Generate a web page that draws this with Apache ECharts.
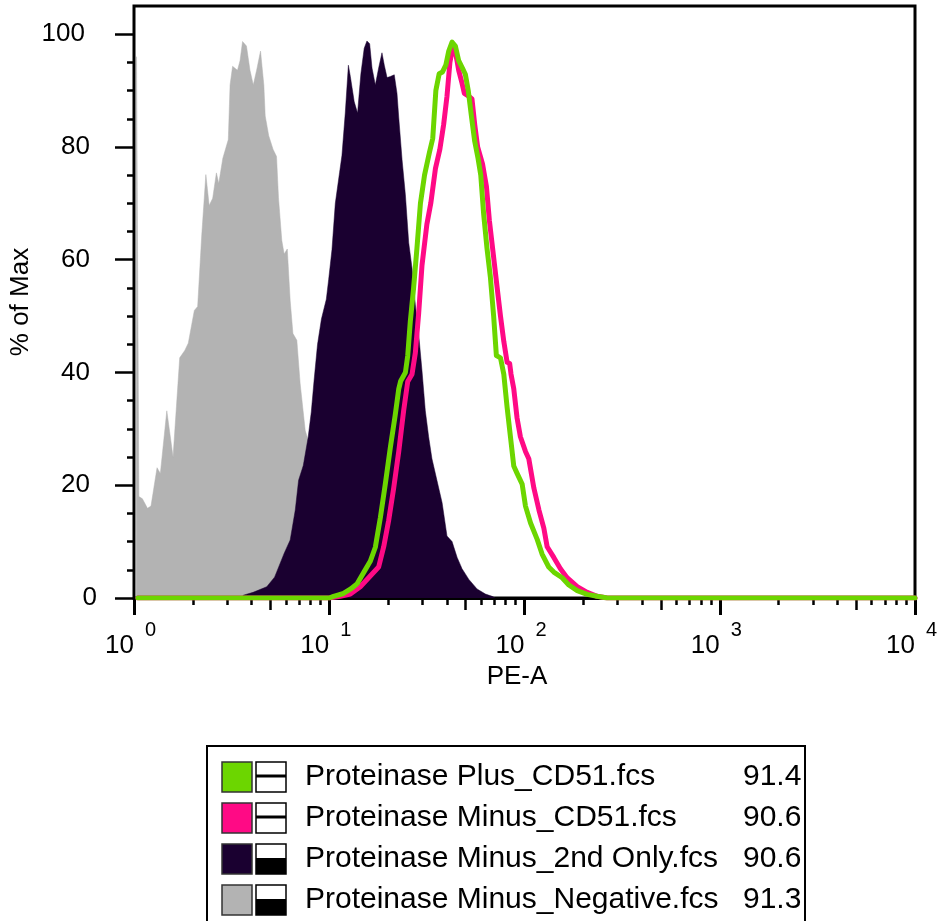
<!DOCTYPE html>
<html>
<head>
<meta charset="utf-8">
<title>PE-A histogram</title>
<script src="https://cdn.jsdelivr.net/npm/echarts@6/dist/echarts.min.js"></script>
<style>
html, body { margin: 0; padding: 0; background: #fff; }
#chart { width: 944px; height: 921px; }
</style>
</head>
<body>
<div id="chart"></div>
<script>
// x = log10(PE-A), y = % of Max
var negativeCurve = [
    [0.011, 0], [0.013, 96], [0.021, 96], [0.025, 18], [0.043, 17.6], [0.069, 15.9], [0.087, 16.3],
    [0.118, 23.1], [0.135, 22.1], [0.168, 33.2], [0.2, 25.0], [0.234, 42.6], [0.26, 43.9],
    [0.278, 45.2], [0.309, 51.0], [0.326, 51.7], [0.347, 64.4], [0.368, 75.1], [0.385, 69.6],
    [0.403, 70.9], [0.422, 75.4], [0.434, 73.5], [0.455, 78.0], [0.483, 81.3], [0.492, 91],
    [0.505, 94.3], [0.53, 93.6], [0.543, 95.3], [0.556, 98.7], [0.576, 97.9], [0.594, 93.6],
    [0.611, 91], [0.628, 93.6], [0.648, 97], [0.665, 91], [0.672, 85.5], [0.69, 82],
    [0.712, 79.6], [0.73, 78.3], [0.74, 71], [0.757, 63.4], [0.769, 61], [0.785, 61.9],
    [0.8, 52.7], [0.814, 46.9], [0.834, 45.7], [0.851, 38], [0.877, 29.7], [0.892, 28],
    [0.93, 20], [0.96, 13], [1.0, 6], [1.05, 2], [1.1, 0]
];
var secondOnlyCurve = [
    [0.55, 0], [0.56, 0.5], [0.61, 1], [0.68, 2], [0.72, 3.7], [0.77, 8], [0.8, 10.3],
    [0.826, 15.6], [0.843, 20.9], [0.867, 23.5], [0.892, 28.5], [0.908, 33], [0.922, 38.5],
    [0.94, 45], [0.96, 49.5], [0.985, 53], [0.997, 56.5], [1.014, 61.8], [1.031, 70],
    [1.053, 75.5], [1.065, 78.5], [1.082, 86], [1.098, 94.5], [1.108, 92.5], [1.128, 88],
    [1.145, 86], [1.162, 93], [1.179, 97.5], [1.193, 98.8], [1.207, 98.3], [1.219, 94],
    [1.236, 91], [1.253, 94], [1.27, 96.7], [1.282, 94.5], [1.296, 92.3], [1.313, 92.5],
    [1.333, 92.8], [1.347, 89.5], [1.356, 85.2], [1.373, 77.7], [1.39, 71.5], [1.407, 63],
    [1.424, 58.5], [1.441, 52], [1.458, 46.8], [1.475, 40.3], [1.492, 33.2], [1.509, 28.6],
    [1.526, 24.7], [1.552, 20.8], [1.578, 16.9], [1.603, 11], [1.629, 10], [1.655, 7.2],
    [1.68, 5.2], [1.715, 3.3], [1.757, 1.6], [1.8, 0.7], [1.834, 0.3], [1.85, 0]
];
var minusCd51Curve = [
    [0.02, 0], [1.0, 0], [1.056, 0.3], [1.108, 0.7], [1.159, 2], [1.21, 3.9], [1.253, 5.5],
    [1.279, 9.1], [1.304, 13.7], [1.33, 19.5], [1.356, 26], [1.381, 33.2], [1.402, 38.4],
    [1.424, 39.7], [1.441, 43.5], [1.458, 50.5], [1.475, 59], [1.5, 66.3], [1.52, 70],
    [1.544, 76.2], [1.566, 79.5], [1.586, 84], [1.603, 89], [1.618, 95], [1.634, 98],
    [1.646, 96.9], [1.663, 93.6], [1.68, 91.3], [1.692, 89.5], [1.714, 89], [1.731, 88.5],
    [1.745, 84], [1.76, 80], [1.785, 77], [1.805, 73], [1.82, 67], [1.84, 61], [1.86, 55],
    [1.877, 50], [1.894, 45.5], [1.911, 41.8], [1.924, 41.6], [1.931, 39.7], [1.945, 37.1],
    [1.962, 31.9], [1.979, 28.6], [2.005, 26], [2.022, 24.7], [2.048, 19.5], [2.074, 15.6],
    [2.099, 12.4], [2.116, 9.1], [2.15, 7.2], [2.184, 5.2], [2.218, 3.6], [2.27, 2],
    [2.321, 1], [2.372, 0.3], [2.424, 0], [4.0, 0]
];
var plusCd51Curve = [
    [0.02, 0], [1.0, 0], [1.022, 0.3], [1.073, 0.8], [1.11, 1.6], [1.142, 2.5], [1.176, 4.5],
    [1.21, 6.5], [1.236, 9], [1.262, 14.3], [1.287, 20.2], [1.313, 26.7], [1.338, 32.5],
    [1.356, 37.1], [1.366, 38.5], [1.39, 40], [1.402, 43], [1.415, 49], [1.432, 55],
    [1.449, 62], [1.467, 70], [1.488, 75], [1.513, 79], [1.53, 81.5], [1.546, 90],
    [1.563, 93], [1.58, 93.3], [1.597, 94.5], [1.612, 97], [1.629, 98.6], [1.646, 97.9],
    [1.663, 95.3], [1.682, 94], [1.697, 92.9], [1.712, 90], [1.728, 85.5], [1.745, 81],
    [1.762, 78], [1.776, 75], [1.791, 68], [1.808, 62], [1.825, 57], [1.842, 50],
    [1.856, 43], [1.877, 42.6], [1.894, 39.7], [1.911, 33.8], [1.928, 28.6], [1.945, 23.4],
    [1.962, 22.1], [1.988, 20.2], [2.005, 16.3], [2.031, 13.3], [2.065, 10.4], [2.09, 7.8],
    [2.124, 5.5], [2.15, 4.6], [2.193, 3.6], [2.227, 2.3], [2.27, 1.3], [2.321, 0.65],
    [2.372, 0.3], [2.424, 0], [4.0, 0]
];

var decades = [0, 1, 2, 3, 4];
var minorSteps = [2, 3, 4, 6, 7, 8, 9];
var yLabelTicks = [20, 40, 60, 80];
var yMajorTicks = [0, 20, 40, 60, 80, 100];
var yMinorTicks = [5, 10, 15, 25, 30, 35, 45, 50, 55, 65, 70, 75, 85, 90, 95];

var legendNames = ['Proteinase Plus_CD51.fcs', 'Proteinase Minus_CD51.fcs',
    'Proteinase Minus_2nd Only.fcs', 'Proteinase Minus_Negative.fcs'];
var legendValues = ['91.4', '90.6', '90.6', '91.3'];
var legendColors = ['#6cd600', '#ff0a85', '#1a0030', '#b3b3b3'];

var font = "'Liberation Sans', Arial, Helvetica, sans-serif";

var midTicks = [];
var minorTicks = [];
for (var d = 0; d < 4; d++) {
    midTicks.push(d + Math.log10(5));
    for (var k = 0; k < minorSteps.length; k++) {
        minorTicks.push(d + Math.log10(minorSteps[k]));
    }
}

function tickAxis(values, len, width) {
    return {
        type: 'value', min: 0, max: 4, position: 'bottom',
        axisLine: {show: false},
        splitLine: {show: false},
        axisTick: {show: true, customValues: values, length: len, lineStyle: {color: '#000', width: width}},
        axisLabel: {show: false}
    };
}

function yAxisDef(ticks, tickLen, labels, margin) {
    return {
        type: 'value', min: 0, max: 105, position: 'left',
        axisLine: {show: false},
        splitLine: {show: false},
        axisTick: {show: ticks.length > 0, customValues: ticks, length: tickLen, lineStyle: {color: '#000', width: 2.5}},
        axisLabel: {show: true, customValues: labels, margin: margin, fontSize: 26, color: '#000', fontFamily: font}
    };
}

function buildLegend() {
    var items = [];
    items.push({
        type: 'rect', shape: {x: 207, y: 746, width: 598, height: 200},
        style: {fill: '#fff', stroke: '#000', lineWidth: 2}
    });
    for (var i = 0; i < legendNames.length; i++) {
        var top = 762 + i * 41;
        items.push({
            type: 'rect', shape: {x: 222, y: top, width: 30, height: 30},
            style: {fill: legendColors[i], stroke: '#333', lineWidth: 1.5}
        });
        items.push({
            type: 'rect', shape: {x: 256, y: top, width: 30, height: 30},
            style: {fill: '#fff', stroke: '#000', lineWidth: 1.5}
        });
        if (i < 2) {
            items.push({
                type: 'line', shape: {x1: 256, y1: top + 14, x2: 286, y2: top + 14},
                style: {stroke: '#000', lineWidth: 3}
            });
        } else {
            items.push({
                type: 'rect', shape: {x: 256, y: top + 14, width: 30, height: 16},
                style: {fill: '#000'}
            });
        }
        items.push({
            type: 'text', x: 305, y: top + 15,
            style: {text: legendNames[i], fill: '#000', font: '30px ' + font, textVerticalAlign: 'middle'}
        });
        items.push({
            type: 'text', x: 743, y: top + 15,
            style: {text: legendValues[i], fill: '#000', font: '30px ' + font, textVerticalAlign: 'middle'}
        });
    }
    return items;
}

var chart = echarts.init(document.getElementById('chart'));
var mainX = tickAxis(decades, 17, 3);
mainX.axisLine = {show: true, lineStyle: {color: '#000', width: 3}};
mainX.axisLabel = {
    show: true, customValues: decades, formatter: function () { return '10'; },
    align: 'right', margin: 35, fontSize: 26, color: '#000', fontFamily: font
};
mainX.name = 'PE-A';
mainX.nameLocation = 'middle';
mainX.nameGap = 62;
mainX.nameTextStyle = {fontSize: 26, color: '#000', fontFamily: font, padding: [0, 15, 0, 0]};

var supX = tickAxis([], 0, 0);
supX.axisTick = {show: false};
supX.axisLabel = {
    show: true, customValues: decades, formatter: function (v) { return String(v); },
    align: 'left', padding: [0, 0, 0, 11], margin: 22, fontSize: 20, color: '#000', fontFamily: font
};

var mainY = yAxisDef(yMajorTicks, 19, yLabelTicks, 44);
mainY.name = '% of Max';
mainY.nameLocation = 'middle';
mainY.nameRotate = 90;
mainY.nameGap = 100;
mainY.nameTextStyle = {fontSize: 26, color: '#000', fontFamily: font};

var option = {
    animation: false,
    backgroundColor: '#fff',
    grid: {
        left: 134, top: 6, right: 29, bottom: 323,
        show: true, borderColor: '#000', borderWidth: 3,
        outerBoundsMode: 'none'
    },
    xAxis: [mainX, supX, tickAxis(midTicks, 12, 2.5), tickAxis(minorTicks, 7, 2.5)],
    yAxis: [mainY, yAxisDef(yMinorTicks, 7, [100], 49), yAxisDef([], 0, [0], 37)],
    series: [{
        name: legendNames[3], type: 'line', z: 2, data: negativeCurve, showSymbol: false,
        lineStyle: {width: 0.5, color: legendColors[3]},
        areaStyle: {color: legendColors[3], opacity: 1}
    }, {
        name: legendNames[2], type: 'line', z: 3, data: secondOnlyCurve, showSymbol: false,
        lineStyle: {width: 0.5, color: legendColors[2]},
        areaStyle: {color: legendColors[2], opacity: 1}
    }, {
        name: legendNames[1], type: 'line', z: 4, data: minusCd51Curve, showSymbol: false,
        lineStyle: {width: 5, color: legendColors[1], join: 'round', cap: 'round'}
    }, {
        name: legendNames[0], type: 'line', z: 5, data: plusCd51Curve, showSymbol: false,
        lineStyle: {width: 5, color: legendColors[0], join: 'round', cap: 'round'}
    }],
    graphic: buildLegend()
};
chart.setOption(option);
</script>
</body>
</html>
